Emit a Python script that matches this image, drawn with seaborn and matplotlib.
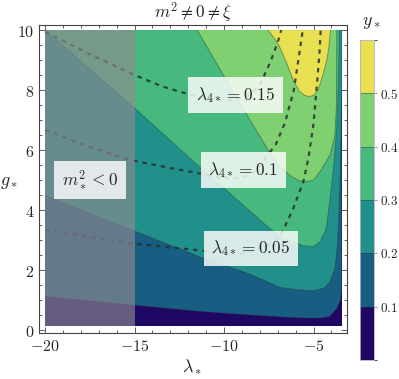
import matplotlib
matplotlib.use('Agg')
import matplotlib.pyplot as plt
from matplotlib.colors import ListedColormap, BoundaryNorm
from matplotlib.cm import ScalarMappable
from matplotlib.ticker import MultipleLocator, FuncFormatter
import seaborn as sns

# band levels and colours (bottom -> top)
levels = [0.0, 0.1, 0.2, 0.3, 0.4, 0.5, 0.6]
band_colors = ['#1e0864', '#185d82', '#21908a', '#48b97e', '#7fd070', '#e8e050']

# data window
lam_min, lam_max = -20.0, -3.43
g_min, g_max = 0.12, 10.0
lam_tachyon = -15.0   # m_*^2 < 0 for lambda_* below this

# y_* contour lines (lambda_*, g_*)
c1_lam = [-20, -15, -11.3, -8.5, -6.87, -5.5, -4.6, -4.1, -3.7, -3.5, -3.43]
c1_g = [1.13, 0.83, 0.62, 0.50, 0.44, 0.40, 0.40, 0.45, 0.72, 1.0, 1.3]

c2_lam = [-20, -15, -11.3, -8.5, -6.87, -6.0, -5.0, -4.4, -4.08, -3.8, -3.67, -3.6, -3.52, -3.47, -3.43]
c2_g = [4.5, 3.3, 2.43, 1.85, 1.42, 1.35, 1.31, 1.40, 1.61, 2.06, 2.83, 3.5, 5.0, 6.5, 8.0]

c3_lam = [-20, -15, -11.3, -9.0, -7.25, -6.7, -6.13, -5.57, -5.01, -4.64, -4.36, -4.26, -4.05, -3.85, -3.7, -3.6, -3.56]
c3_g = [10, 7.4, 5.4, 4.2, 3.28, 3.07, 2.94, 2.81, 2.78, 2.94, 3.28, 3.5, 4.5, 5.6, 6.8, 8.3, 10]

c4_lam = [-11.5, -9.5, -7.43, -6.8, -6.2, -5.8, -5.47, -5.0, -4.64, -4.08, -3.8, -3.72, -3.70]
c4_g = [10, 7.95, 5.89, 5.4, 5.1, 4.98, 4.94, 5.0, 5.28, 5.83, 6.5, 7.5, 10]

c5_lam = [-7.55, -7.25, -6.9, -6.5, -6.13, -5.8, -5.5, -5.2, -4.95, -4.72, -4.48, -4.26, -4.13, -4.05]
c5_g = [10, 9.78, 9.45, 8.9, 8.33, 7.97, 7.82, 7.78, 7.85, 8.05, 8.5, 9.0, 9.5, 10]

# lambda_4* = const curves
l15_lam = [-20, -17.5, -15, -13.4, -11.8, -10.5, -9.6, -8.7, -8.2, -7.9, -7.4, -7.0, -6.8]
l15_g = [9.94, 9.2, 8.5, 8.11, 7.83, 7.68, 7.66, 7.8, 8.05, 8.3, 8.95, 9.6, 10.0]

l10_lam = [-20, -17.5, -15.25, -13, -11.34, -10.2, -9.0, -8.2, -7.6, -7.1, -6.6, -6.1, -5.6]
l10_g = [6.67, 6.1, 5.67, 5.4, 5.22, 5.07, 5.07, 5.3, 5.8, 6.2, 6.9, 8.0, 10.0]

l05_lam = [-20, -17.5, -15.25, -13, -11.15, -10.0, -8.8, -7.6, -7.0, -6.69, -6.13, -5.57, -5.29, -5.01, -4.82, -4.67, -4.6]
l05_g = [3.33, 3.1, 2.89, 2.76, 2.64, 2.56, 2.56, 2.8, 3.05, 3.33, 4.06, 4.94, 5.72, 6.83, 8.11, 9.22, 10.0]

label_lam = [-9.34, -8.92, -8.5]
label_g = [7.83, 5.33, 2.72]
label_txt = [r'$\lambda_{4*} = 0.15$', r'$\lambda_{4*} = 0.1$', r'$\lambda_{4*} = 0.05$']

cbar_ticks = [0.1, 0.2, 0.3, 0.4, 0.5]

sns.set_style('ticks')
plt.rcParams['font.family'] = ['DejaVu Serif']
plt.rcParams['mathtext.fontset'] = 'cm'

fig = plt.figure(figsize=(3.99, 3.79), dpi=100)
ax = fig.add_axes([39 / 399, 1 - 333 / 379, 308 / 399, 308 / 379])
cax = fig.add_axes([360 / 399, 1 - 360 / 379, 14 / 399, 320 / 379])

# filled bands: base rectangle, then the region above each contour
ax.fill([lam_min, lam_max, lam_max, lam_min], [g_min, g_min, g_max, g_max],
        color=band_colors[0], lw=0, zorder=1)
edge_close = [(lam_max, g_max), (lam_min, g_max)]
contours = [(c1_lam, c1_g, True), (c2_lam, c2_g, True), (c3_lam, c3_g, False),
            (c4_lam, c4_g, False), (c5_lam, c5_g, False)]
for k, (xs, ys, close) in enumerate(contours):
    px = list(xs)
    py = list(ys)
    if close:
        px += [p[0] for p in edge_close]
        py += [p[1] for p in edge_close]
    ax.fill(px, py, color=band_colors[k + 1], lw=0, zorder=1)
for xs, ys, _ in contours:
    sns.lineplot(x=xs, y=ys, sort=False, estimator=None, ax=ax,
                 color='#2d3b33', alpha=0.45, lw=0.7, zorder=2)

# lambda_4* dashed curves
for xs, ys in [(l15_lam, l15_g), (l10_lam, l10_g), (l05_lam, l05_g)]:
    sns.lineplot(x=xs, y=ys, sort=False, estimator=None, ax=ax,
                 color='#263030', alpha=0.85, lw=1.6,
                 linestyle=(0, (2.0, 2.2)), zorder=3)

# shaded tachyonic region
ax.fill_between([lam_min, lam_tachyon], g_min, g_max, color='#8e8a90',
                alpha=0.65, lw=0, zorder=4)

box = dict(boxstyle='square,pad=0.45', fc='white', ec='none', alpha=0.82)
for x, y, t in zip(label_lam, label_g, label_txt):
    ax.text(x, y, t, ha='center', va='center', fontsize=12.5, bbox=box, zorder=5)
ax.text(-17.51, 5.0, r'$m_*^2 < 0$', ha='center', va='center', fontsize=12.5,
        bbox=box, zorder=5)

ax.set_xlim(-20.34, -3.13)
ax.set_ylim(-0.1, 10.17)
ax.set_xticks([-20, -15, -10, -5])
ax.set_yticks([0, 2, 4, 6, 8, 10])
ax.xaxis.set_minor_locator(MultipleLocator(1))
ax.yaxis.set_minor_locator(MultipleLocator(0.5))
fmt = FuncFormatter(lambda v, p: f'${v:g}$')
ax.xaxis.set_major_formatter(fmt)
ax.yaxis.set_major_formatter(fmt)
ax.tick_params(which='both', direction='in', top=True, right=True,
               width=0.6, color='#444444', labelsize=11.5)
ax.tick_params(which='major', length=4.5)
ax.tick_params(which='minor', length=2.5)
for s in ax.spines.values():
    s.set_linewidth(0.8)
    s.set_color('#444444')

ax.set_title(r'$m^2 \neq 0 \neq \xi$', fontsize=12.5, pad=5)
ax.set_xlabel(r'$\lambda_*$', fontsize=13)
ax.xaxis.set_label_coords(0.497, -0.11)
ax.xaxis.label.set_va('center')
ax.set_ylabel(r'$g_*$', fontsize=13, rotation=0)
ax.yaxis.set_label_coords(-0.097, 0.49)
ax.yaxis.label.set_va('center')
ax.yaxis.label.set_ha('center')

# colour bar
cmap = ListedColormap(band_colors)
norm = BoundaryNorm(levels, cmap.N)
cb = fig.colorbar(ScalarMappable(norm=norm, cmap=cmap), cax=cax,
                  ticks=cbar_ticks)
cb.ax.set_yticklabels([f'${v:g}$' for v in cbar_ticks])
cb.ax.tick_params(direction='out', length=2.5, width=0.6, color='#888888',
                  labelsize=9.5, pad=1.5)
cb.outline.set_edgecolor('#b4aecb')
cb.outline.set_linewidth(0.6)
for v in levels[1:-1]:
    cax.axhline(v, color='#2d3b33', alpha=0.45, lw=0.7)
fig.text(371.7 / 399, 1 - 21.7 / 379, r'$y_*$', ha='center', va='center',
         fontsize=13)

fig.savefig('out.png', dpi=100)
